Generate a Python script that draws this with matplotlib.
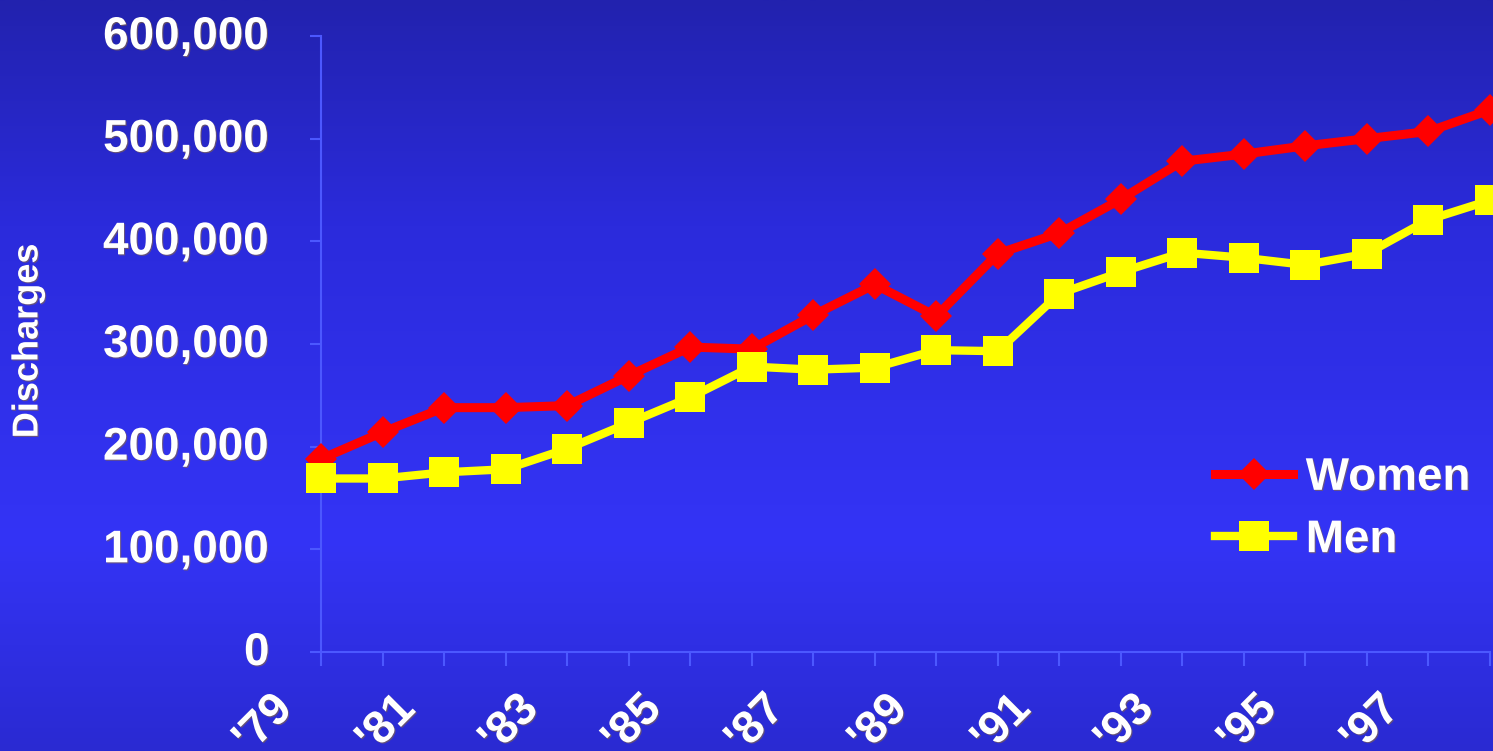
import numpy as np
import matplotlib
matplotlib.use("Agg")
import matplotlib.pyplot as plt
import matplotlib.patheffects as pe
import matplotlib.transforms as mtransforms
from matplotlib.colors import LinearSegmentedColormap
from matplotlib.ticker import FuncFormatter

# hospital discharges by sex, 1979-1998
years = list(range(1979, 1999))
women = [188000, 214000, 238000, 238000, 240000, 269000, 297000, 295000, 328000, 358000,
         327000, 388000, 408000, 441000, 478000, 485000, 493000, 500000, 507000, 528000]
men = [169000, 169000, 175000, 178000, 198000, 223000, 248000, 278000, 275000, 277000,
       294000, 293000, 349000, 370000, 389000, 384000, 377000, 388000, 421000, 440000]
year_ticks = list(range(1979, 1999, 2))
year_labels = ["'%02d" % (y % 100) for y in year_ticks]
y_ticks = [0, 100000, 200000, 300000, 400000, 500000, 600000]

plt.rcParams['font.family'] = ['Liberation Sans', 'DejaVu Sans']
plt.rcParams['font.weight'] = 'bold'

fig = plt.figure(figsize=(14.93, 7.51), dpi=100)

# vertical blue gradient behind everything
bg = fig.add_axes([0, 0, 1, 1], zorder=-10)
grad_cmap = LinearSegmentedColormap.from_list(
    'bg', [(0.0, '#2222ae'), (0.3, '#2b2bdc'), (0.72, '#3434f6'), (1.0, '#2a2ad2')])
bg.imshow(np.linspace(0, 1, 256)[:, None], aspect='auto', cmap=grad_cmap,
          extent=[0, 1, 0, 1])
bg.set_axis_off()

ax = fig.add_axes([321 / 1493, 1 - 652 / 751, (1490 - 321) / 1493, (652 - 36) / 751])
ax.set_facecolor('none')

shadow = [pe.SimplePatchShadow(offset=(0.8, -0.8), shadow_rgbFace='#8a6a3a', alpha=0.6),
          pe.Normal()]

ax.plot(years, women, color='#ff0000', lw=6.5, marker='D', ms=16.5,
        mec='#ff0000', mew=0, clip_on=False, label='Women', zorder=3)
ax.plot(years, men, color='#ffff00', lw=6, marker='s', ms=21,
        mec='#ffff00', mew=0, clip_on=False, label='Men', zorder=4)

ax.set_xlim(1979, 1998)
ax.set_ylim(0, 600000)
# labelled ticks on odd years, bare ticks on even years
ax.set_xticks(year_ticks)
ax.set_xticklabels(year_labels, rotation=45, rotation_mode='anchor', ha='right', va='top',
                   fontsize=33, color='white', path_effects=shadow)
ax.set_xticks([y for y in years if y not in year_ticks], minor=True)
ax.tick_params(axis='x', which='both', length=10, width=1.5, color='#4c58ff',
               direction='out', pad=15)
# slanted labels sit a little to the left of their tick
x_shift = mtransforms.ScaledTranslation(-51 / 100, 0, fig.dpi_scale_trans)
for lab in ax.get_xticklabels():
    lab.set_transform(lab.get_transform() + x_shift)

ax.set_yticks(y_ticks)
ax.yaxis.set_major_formatter(FuncFormatter(lambda v, p: '{:,.0f}'.format(v)))
ax.tick_params(axis='y', length=8, width=1.5, color='#4c58ff', pad=29, labelsize=33,
               labelcolor='white')
y_shift = mtransforms.ScaledTranslation(0, 4 / 100, fig.dpi_scale_trans)
for lab in ax.get_yticklabels():
    lab.set_path_effects(shadow)
    lab.set_va('center_baseline')
    lab.set_transform(lab.get_transform() + y_shift)

for side in ['top', 'right']:
    ax.spines[side].set_visible(False)
for side in ['left', 'bottom']:
    ax.spines[side].set_color('#4c58ff')
    ax.spines[side].set_linewidth(1.5)

fig.text(28 / 1493, 1 - 341 / 751, 'Discharges', rotation=90, ha='center', va='center',
         fontsize=26, color='white', path_effects=shadow)

leg = ax.legend(loc='center left', bbox_to_anchor=(1215 / 1493, 1 - 509 / 751),
                bbox_transform=fig.transFigure, frameon=False, fontsize=33,
                handlelength=1.7, handletextpad=0.28, labelspacing=0.4,
                borderpad=0, borderaxespad=0, labelcolor='white')
for t in leg.get_texts():
    t.set_path_effects(shadow)

fig.savefig('out.png', dpi=100)
